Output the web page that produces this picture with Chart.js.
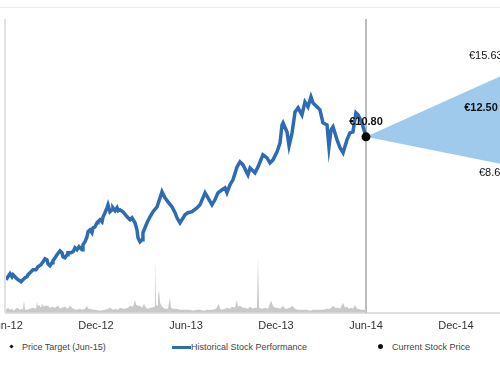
<!DOCTYPE html>
<html>
<head>
<meta charset="utf-8">
<script src="https://cdn.jsdelivr.net/npm/chart.js@4.4.0/dist/chart.umd.min.js"></script>
<style>
  html, body { margin: 0; padding: 0; background: #fff; }
  #frame { position: relative; width: 500px; height: 374px; overflow: hidden; font-family: "Liberation Sans", Arial, sans-serif; }
  #topRule { position: absolute; left: 0; top: 7px; width: 500px; border-top: 1px solid #ededed; }
  #chart { position: absolute; left: -40px; top: 0; }
  .lg { position: absolute; top: 341px; height: 12px; line-height: 12px; font-size: 9px; color: #444; white-space: nowrap; }
  .mk-diamond { position: absolute; left: 10px; top: 345px; width: 3px; height: 3px; background: #111; transform: rotate(45deg); }
  .mk-line { position: absolute; left: 172px; top: 346px; width: 19px; height: 2.5px; background: #2e6bb5; }
  .mk-dot { position: absolute; left: 378px; top: 344px; width: 5px; height: 5px; border-radius: 50%; background: #111; }
</style>
</head>
<body>
<div id="frame">
  <div id="topRule"></div>
  <canvas id="chart" width="620" height="341"></canvas>
  <span class="mk-diamond"></span><span class="lg" style="left:22px">Price Target (Jun-15)</span>
  <span class="mk-line"></span><span class="lg" style="left:191px">Historical Stock Performance</span>
  <span class="mk-dot"></span><span class="lg" style="left:392px">Current Stock Price</span>
</div>
<script>
// --- Données (mois depuis juin 2012) ---
const tickLabels = ['Jun-12', 'Dec-12', 'Jun-13', 'Dec-13', 'Jun-14', 'Dec-14', 'Jun-15'];

const priceMonths = [
  0.00, 0.13, 0.27, 0.40, 0.47, 0.60, 0.73, 0.80, 1.00, 1.13, 1.27, 1.40, 1.47, 1.60, 1.73, 1.80,
  2.00, 2.13, 2.33, 2.47, 2.60, 2.73, 2.80, 2.93, 3.07, 3.13, 3.27, 3.40, 3.60, 3.73, 3.80, 3.93,
  4.07, 4.13, 4.33, 4.47, 4.60, 4.73, 4.87, 5.07, 5.13, 5.27, 5.40, 5.47, 5.60, 5.73, 5.80, 5.93,
  6.07, 6.13, 6.27, 6.40, 6.47, 6.60, 6.73, 6.80, 6.93, 7.07, 7.13, 7.27, 7.40, 7.47, 7.60, 7.80,
  8.07, 8.27, 8.40, 8.60, 8.73, 8.80, 8.93, 9.07, 9.13, 9.40, 9.60, 9.80, 10.07, 10.27, 10.40, 10.60,
  10.80, 11.07, 11.27, 11.40, 11.60, 11.73, 11.93, 12.13, 12.40, 12.73, 12.93, 13.27, 13.47, 13.73, 13.93, 14.13,
  14.40, 14.60, 14.73, 14.93, 15.13, 15.40, 15.60, 15.80, 16.13, 16.27, 16.60, 16.80, 17.13, 17.40, 17.60, 17.80,
  18.07, 18.27, 18.40, 18.47, 18.73, 18.87, 19.07, 19.27, 19.47, 19.73, 19.93, 20.13, 20.33, 20.47, 20.73, 20.93,
  21.13, 21.40, 21.53, 21.67, 21.80, 22.07, 22.27, 22.47, 22.73, 22.93, 23.13, 23.33, 23.47, 23.73, 24.00
];
const priceValues = [
  2.29, 2.47, 2.65, 2.47, 2.59, 2.47, 2.35, 2.29, 2.17, 2.29, 2.41, 2.47, 2.59, 2.70, 2.82, 2.88,
  2.88, 3.06, 3.18, 3.36, 3.54, 3.48, 3.24, 3.12, 3.30, 3.42, 3.60, 3.78, 4.01, 3.90, 3.66, 3.60,
  3.78, 3.90, 3.90, 3.96, 4.19, 4.07, 4.25, 4.07, 4.37, 4.55, 4.85, 5.15, 5.26, 5.09, 5.38, 5.44,
  5.68, 5.74, 5.86, 5.74, 6.04, 6.28, 6.57, 6.75, 6.34, 6.46, 6.57, 6.40, 6.57, 6.40, 6.46, 6.34,
  6.04, 5.86, 5.98, 5.68, 5.26, 4.79, 4.55, 4.67, 5.09, 5.68, 6.04, 6.34, 6.63, 7.17, 7.53, 7.17,
  6.93, 6.63, 6.28, 5.98, 5.68, 5.86, 6.16, 6.28, 6.34, 6.57, 6.75, 7.47, 7.17, 6.75, 7.05, 7.47,
  7.65, 7.76, 7.47, 7.94, 8.24, 9.01, 9.31, 9.13, 8.54, 8.95, 8.66, 9.01, 9.73, 9.55, 9.25, 9.43,
  9.91, 10.44, 11.51, 11.63, 11.10, 10.26, 11.04, 12.29, 12.53, 12.11, 12.88, 12.59, 13.18, 12.82, 12.59, 12.41,
  11.63, 11.51, 10.20, 11.22, 11.40, 10.62, 10.15, 9.85, 10.62, 11.04, 11.10, 12.23, 12.11, 11.63, 10.80
];

const volumeMonths = [
  0.00, 0.13, 0.27, 0.40, 0.53, 0.73, 0.93, 1.13, 1.20, 1.27, 1.40, 1.60, 1.80, 2.00, 2.07, 2.13,
  2.20, 2.33, 2.40, 2.53, 2.60, 2.80, 2.93, 3.07, 3.27, 3.47, 3.60, 3.73, 3.93, 4.13, 4.27, 4.47,
  4.73, 4.93, 5.07, 5.27, 5.40, 5.47, 5.60, 5.80, 5.93, 6.27, 6.60, 6.80, 6.93, 7.13, 7.27, 7.47,
  7.60, 7.80, 7.93, 8.13, 8.27, 8.47, 8.60, 8.67, 8.80, 8.93, 9.07, 9.20, 9.33, 9.47, 9.60, 9.73,
  9.87, 9.93, 10.00, 10.07, 10.13, 10.20, 10.27, 10.33, 10.47, 10.60, 10.80, 10.93, 11.00, 11.13, 11.33, 11.60,
  11.93, 12.27, 12.47, 12.73, 12.93, 13.20, 13.40, 13.60, 13.80, 14.00, 14.20, 14.27, 14.40, 14.60, 14.73, 14.93,
  15.07, 15.27, 15.40, 15.47, 15.60, 15.80, 15.93, 16.13, 16.27, 16.47, 16.60, 16.73, 16.80, 16.87, 17.07, 17.27,
  17.47, 17.67, 17.80, 17.93, 18.13, 18.27, 18.47, 18.60, 18.73, 18.93, 19.07, 19.27, 19.47, 19.60, 19.87, 20.07,
  20.27, 20.47, 20.73, 20.93, 21.13, 21.40, 21.60, 21.80, 21.93, 22.13, 22.27, 22.47, 22.60, 22.73, 22.87, 23.00,
  23.13, 23.27, 23.40, 23.47, 23.67, 23.80, 24.00
];
const volumeValues = [
  3, 5, 3, 4, 2, 5, 3, 4, 12, 3, 3, 4, 5, 4, 11, 6,
  8, 5, 9, 6, 7, 7, 5, 6, 5, 7, 4, 5, 6, 4, 7, 4,
  3, 4, 3, 4, 7, 4, 4, 3, 3, 2, 3, 4, 5, 3, 4, 3,
  5, 4, 4, 5, 7, 6, 13, 8, 7, 7, 5, 9, 5, 4, 5, 5,
  6, 56, 8, 7, 15, 23, 10, 8, 5, 4, 4, 15, 5, 4, 4, 3,
  3, 3, 2, 3, 3, 2, 3, 3, 3, 4, 9, 4, 3, 4, 5, 4,
  6, 5, 13, 6, 7, 5, 5, 4, 6, 4, 5, 5, 56, 5, 4, 5,
  4, 12, 7, 5, 5, 4, 7, 4, 4, 5, 7, 4, 3, 3, 3, 3,
  2, 3, 3, 3, 3, 4, 4, 7, 5, 5, 4, 10, 5, 6, 4, 5,
  4, 8, 4, 4, 3, 3, 3
];

const currentMonth = 24;
const currentPrice = 10.80;
const targetMonth = 36;
const targetHigh = 15.63;
const targetMean = 12.50;
const targetLow = 8.64;

const FONT = '"Liberation Sans", Arial, sans-serif';

function toPoints(xs, ys) {
  return xs.map((x, i) => ({ x: x, y: ys[i] }));
}

// --- Repères et étiquettes ---
const guides = {
  id: 'guides',
  beforeDatasetsDraw(chart) {
    const { ctx, chartArea, scales } = chart;
    const xNow = scales.x.getPixelForValue(currentMonth);
    ctx.save();
    ctx.lineWidth = 2;
    ctx.strokeStyle = '#e2e2e2';
    ctx.beginPath();
    ctx.moveTo(chartArea.left - 1, chartArea.top);
    ctx.lineTo(chartArea.left - 1, chartArea.bottom);
    ctx.stroke();
    ctx.strokeStyle = '#bdbdbd';
    ctx.beginPath();
    ctx.moveTo(xNow, chartArea.top);
    ctx.lineTo(xNow, chartArea.bottom);
    ctx.stroke();
    ctx.restore();
  },
  afterDatasetsDraw(chart) {
    const { ctx, scales } = chart;
    const xNow = scales.x.getPixelForValue(currentMonth);
    const xEnd = scales.x.getPixelForValue(targetMonth);
    const y = scales.y;
    ctx.save();
    ctx.fillStyle = '#111';
    ctx.textBaseline = 'middle';
    ctx.textAlign = 'center';
    ctx.font = 'bold 11px ' + FONT;
    ctx.fillText('€' + currentPrice.toFixed(2), xNow, y.getPixelForValue(currentPrice) - 15);
    ctx.fillText('€' + targetMean.toFixed(2), xEnd - 65, y.getPixelForValue(targetMean));
    ctx.textAlign = 'left';
    ctx.font = '11px ' + FONT;
    ctx.fillText('€' + targetHigh.toFixed(2), xEnd - 77, y.getPixelForValue(targetHigh));
    ctx.fillText('€' + targetLow.toFixed(2), xEnd - 67, y.getPixelForValue(targetLow));
    ctx.restore();
  }
};

const ctx = document.getElementById('chart');

const chart = new Chart(ctx, {
  type: 'line',
  data: {
    datasets: [
      {
        label: 'Current Stock Price',
        data: [{ x: currentMonth, y: currentPrice }],
        pointRadius: 4.5,
        pointBackgroundColor: '#000',
        pointBorderWidth: 0,
        showLine: false
      },
      {
        label: 'Historical Stock Performance',
        data: toPoints(priceMonths, priceValues),
        borderColor: '#2e6bb5',
        borderWidth: 3.5,
        pointRadius: 0,
        tension: 0
      },
      {
        label: 'Price Target (Jun-15)',
        data: [{ x: currentMonth, y: currentPrice }, { x: targetMonth, y: targetHigh }],
        borderWidth: 0,
        pointRadius: 0,
        backgroundColor: '#9fcaec',
        fill: '+1'
      },
      {
        label: 'Target low',
        data: [{ x: currentMonth, y: currentPrice }, { x: targetMonth, y: targetLow }],
        borderWidth: 0,
        pointRadius: 0,
        fill: false
      },
      {
        label: 'Volume',
        data: toPoints(volumeMonths, volumeValues),
        yAxisID: 'y2',
        borderWidth: 0,
        pointRadius: 0,
        backgroundColor: '#c9c9c9',
        fill: 'origin'
      }
    ]
  },
  options: {
    responsive: false,
    animation: false,
    layout: { padding: { left: 46, right: 34, top: 19, bottom: 1 } },
    plugins: {
      legend: { display: false },
      tooltip: { enabled: false }
    },
    scales: {
      x: {
        type: 'linear',
        min: 0,
        max: 36,
        grid: { display: false, drawTicks: false },
        border: { display: true, color: '#e0e0e0', width: 2 },
        ticks: {
          stepSize: 6,
          autoSkip: false,
          maxRotation: 0,
          padding: 7,
          color: '#333',
          font: { family: FONT, size: 11 },
          callback: v => tickLabels[v / 6]
        }
      },
      y: {
        display: false,
        min: 0.32,
        max: 17.82
      },
      y2: {
        display: false,
        min: 0,
        max: 294
      }
    }
  },
  plugins: [guides]
});
</script>
</body>
</html>
